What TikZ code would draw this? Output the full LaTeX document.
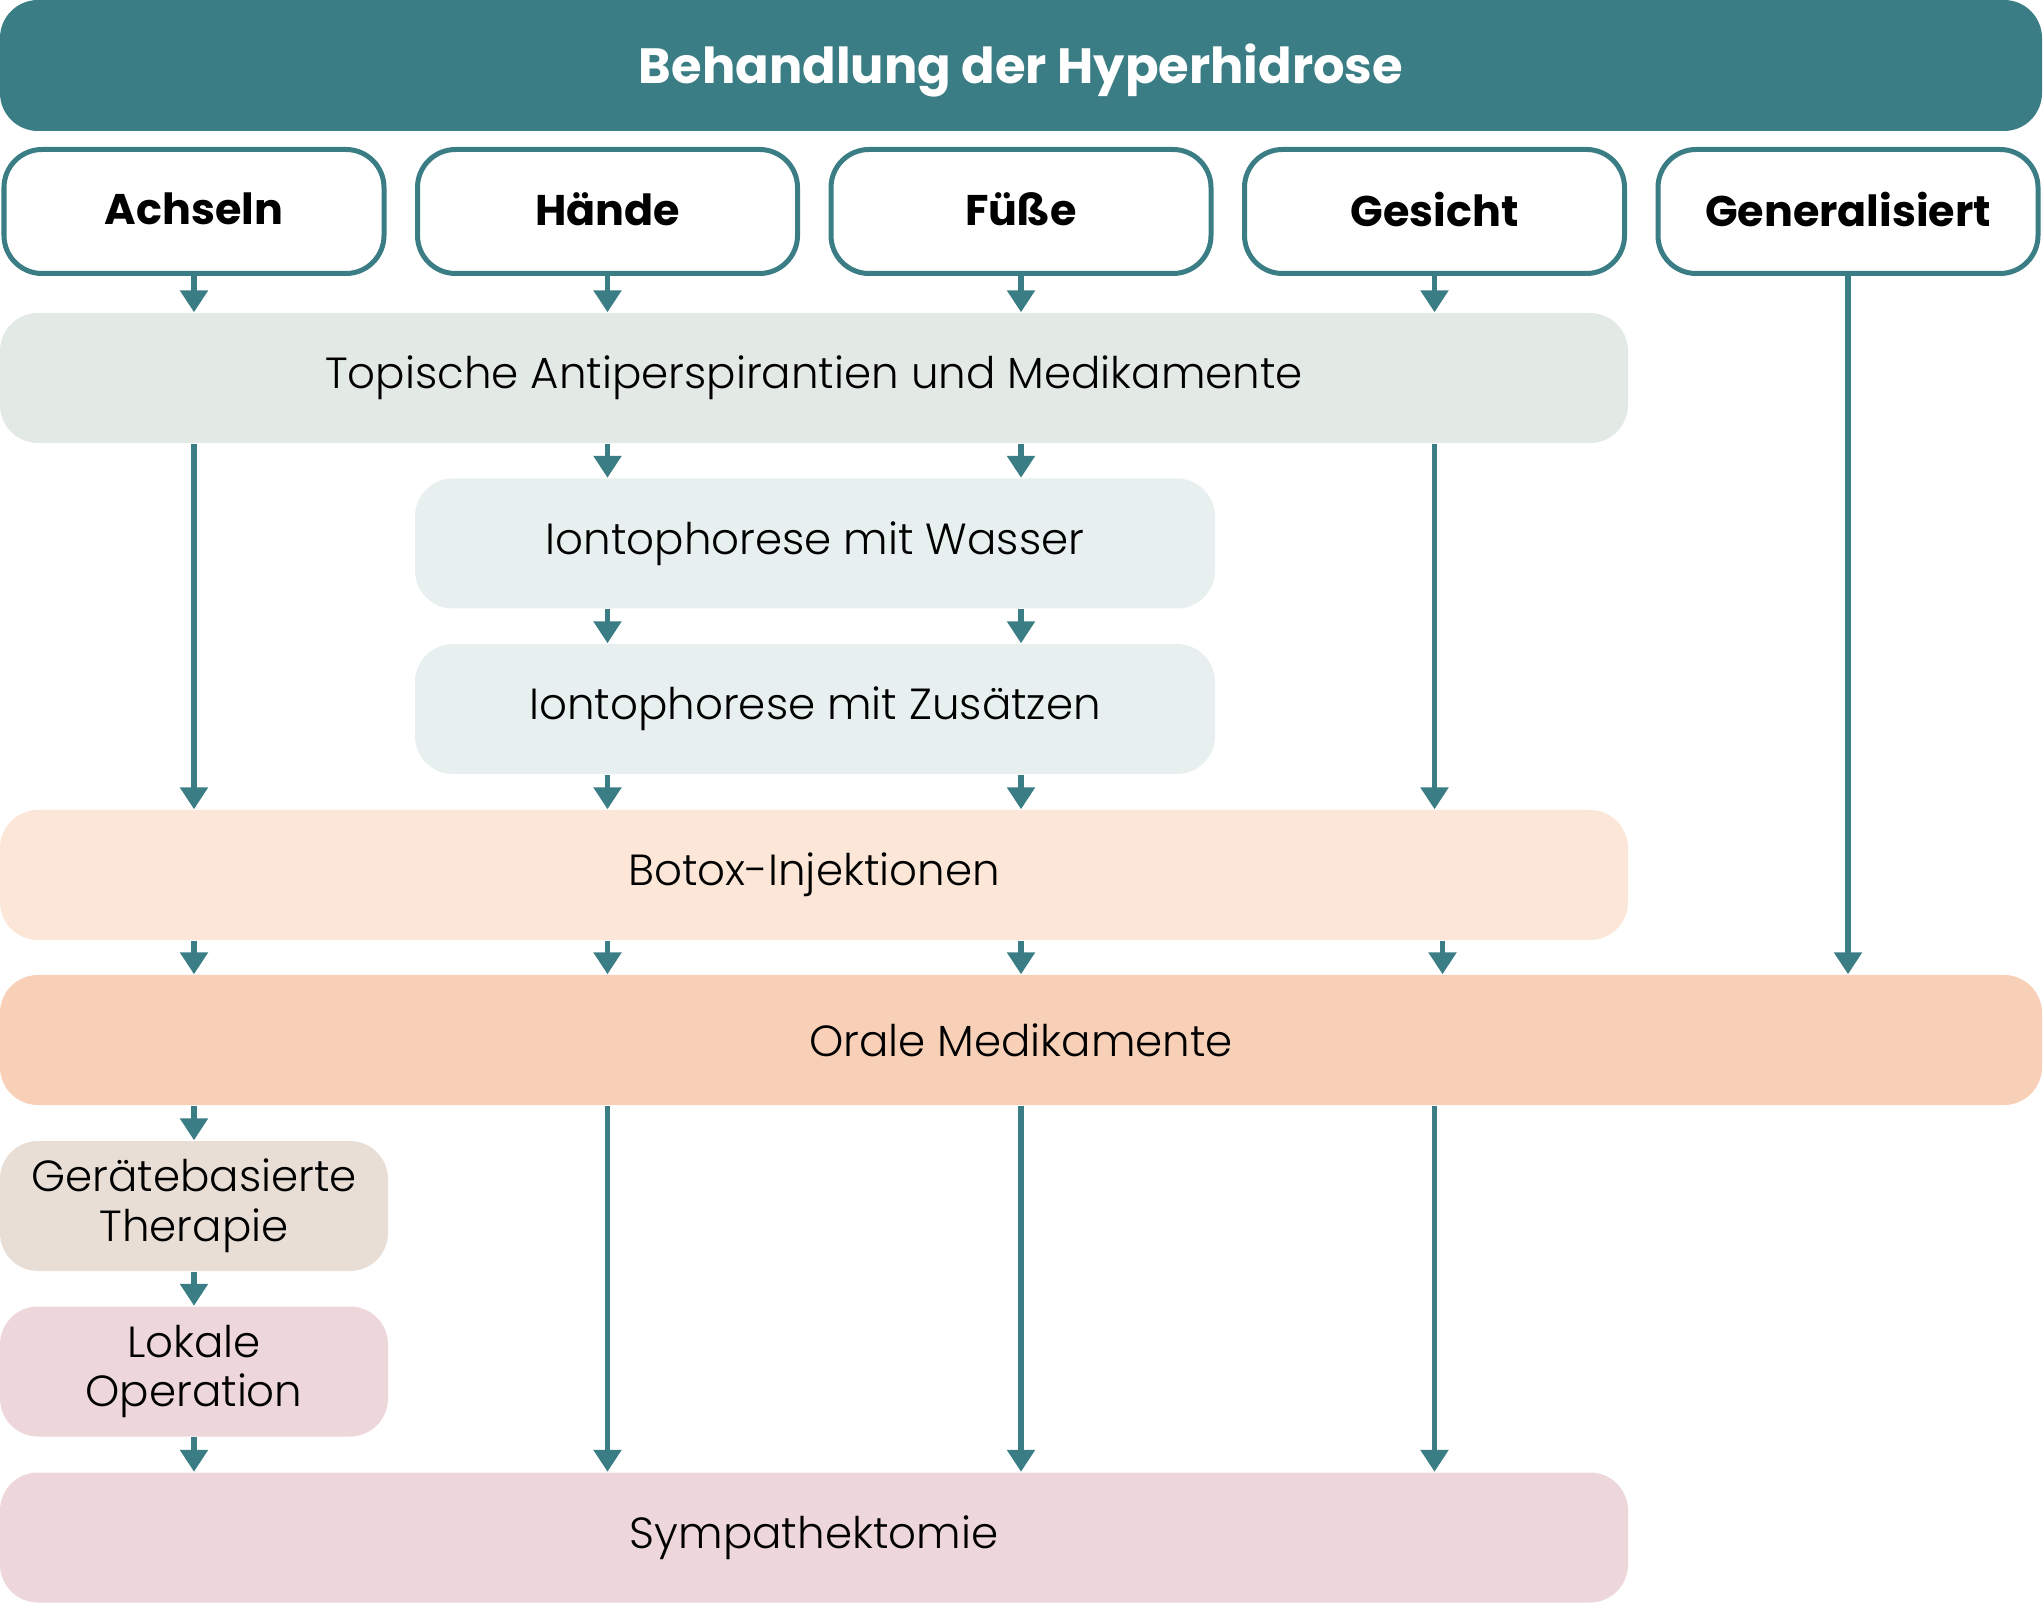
\documentclass[tikz,border=0pt]{standalone}
\usepackage{fontspec}
\setmainfont{Poppins}
\newfontfamily\lightfont{Poppins Light}
\usetikzlibrary{arrows.meta}
\definecolor{tealc}{HTML}{3B7D84}
\definecolor{topc}{HTML}{E3E9E5}
\definecolor{ionc}{HTML}{E7F0EF}
\definecolor{botc}{HTML}{FBE6D8}
\definecolor{oralc}{HTML}{F8D0B7}
\definecolor{gerc}{HTML}{E8DED6}
\definecolor{opc}{HTML}{EDD7DA}
\begin{document}
\begin{tikzpicture}[
  box/.style={rounded corners=0.38cm, inner sep=0pt, align=center, text=black,
    font=\lightfont\fontsize{12.4}{14.2}\selectfont, minimum height=1.30cm},
  cat/.style={box, draw=tealc, line width=0.05cm, fill=white,
    minimum width=3.80cm, minimum height=1.24cm, text depth=0.05cm,
    font=\bfseries\fontsize{12.2}{15}\selectfont},
  arr/.style={draw=tealc, line width=0.055cm,
    -{Triangle[width=0.27cm,length=0.22cm]}}
]
\useasboundingbox (0,0) rectangle (20.44,-16.06);

\node[box, fill=tealc, minimum width=20.42cm, minimum height=1.31cm, text=white,
  text depth=0.03cm,
  font=\bfseries\fontsize{14.1}{16}\selectfont] (title) at (10.21,-0.655) {Behandlung der Hyperhidrose};

\node[cat] (ach) at (1.94,-2.115) {Achseln};
\node[cat] (haen) at (6.075,-2.115) {Hände};
\node[cat] (fue) at (10.21,-2.115) {Füße};
\node[cat] (ges) at (14.345,-2.115) {Gesicht};
\node[cat] (gen) at (18.48,-2.115) {Generalisiert};

\node[box, fill=topc, minimum width=16.28cm] (top) at (8.14,-3.78) {Topische Antiperspirantien und Medikamente};
\node[box, fill=ionc, minimum width=8.0cm] (iw) at (8.15,-5.435) {Iontophorese mit Wasser};
\node[box, fill=ionc, minimum width=8.0cm] (iz) at (8.15,-7.09) {Iontophorese mit Zusätzen};
\node[box, fill=botc, minimum width=16.28cm] (bot) at (8.14,-8.75) {Botox-Injektionen};
\node[box, fill=oralc, minimum width=20.42cm] (oral) at (10.21,-10.40) {Orale Medikamente};
\node[box, fill=gerc, minimum width=3.88cm] (ger) at (1.94,-12.06) {Gerätebasierte\\Therapie};
\node[box, fill=opc, minimum width=3.88cm] (lok) at (1.94,-13.715) {Lokale\\Operation};
\node[box, fill=opc, minimum width=16.28cm] (sym) at (8.14,-15.375) {Sympathektomie};

% categories -> topical
\foreach \c in {ach,haen,fue,ges}
  \draw[arr] (\c.south) -- (\c.south |- top.north);
\draw[arr] (gen.south) -- (gen.south |- oral.north);

% topical
\draw[arr] (ach.south |- top.south) -- (ach.south |- bot.north);
\draw[arr] (ges.south |- top.south) -- (ges.south |- bot.north);
\draw[arr] (haen.south |- top.south) -- (haen.south |- iw.north);
\draw[arr] (fue.south |- top.south) -- (fue.south |- iw.north);
\draw[arr] (haen.south |- iw.south) -- (haen.south |- iz.north);
\draw[arr] (fue.south |- iw.south) -- (fue.south |- iz.north);
\draw[arr] (haen.south |- iz.south) -- (haen.south |- bot.north);
\draw[arr] (fue.south |- iz.south) -- (fue.south |- bot.north);

% botox -> oral
\draw[arr] (ach.south |- bot.south) -- (ach.south |- oral.north);
\draw[arr] (haen.south |- bot.south) -- (haen.south |- oral.north);
\draw[arr] (fue.south |- bot.south) -- (fue.south |- oral.north);
\coordinate (gx) at ([xshift=0.08cm]ges.south);
\draw[arr] (gx |- bot.south) -- (gx |- oral.north);

% oral -> further
\draw[arr] (ach.south |- oral.south) -- (ach.south |- ger.north);
\draw[arr] (ger.south) -- (lok.north);
\draw[arr] (lok.south) -- (lok.south |- sym.north);
\draw[arr] (haen.south |- oral.south) -- (haen.south |- sym.north);
\draw[arr] (fue.south |- oral.south) -- (fue.south |- sym.north);
\draw[arr] (ges.south |- oral.south) -- (ges.south |- sym.north);
\end{tikzpicture}
\end{document}
